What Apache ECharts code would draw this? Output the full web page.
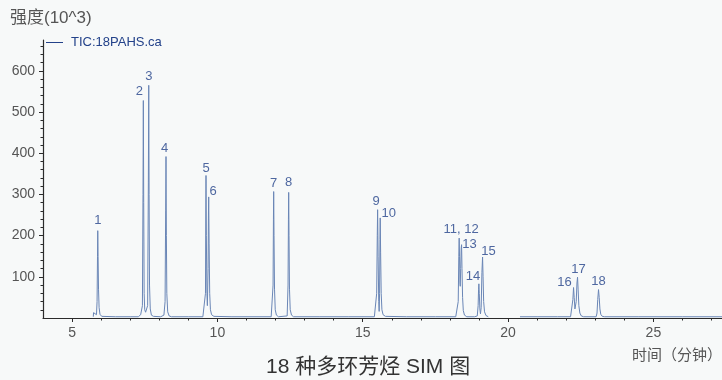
<!DOCTYPE html>
<html>
<head>
<meta charset="utf-8">
<title>18 种多环芳烃 SIM 图</title>
<script src="https://cdn.jsdelivr.net/npm/echarts@6/dist/echarts.min.js"></script>
<style>
  html, body { margin: 0; padding: 0; background: #f7f9f9; }
  #chart { width: 722px; height: 380px; }
</style>
</head>
<body>
<div id="chart"></div>
<script>
// Total ion chromatogram, [retention time (min), intensity (10^3)].
// A null value breaks the trace where no data was acquired.
const ticTrace = [
  [5.73, 3], [5.74, 13], [5.78, 12], [5.80, 9], [5.84, 8], [5.86, 40], [5.875, 150],
  [5.884, 212], [5.895, 150], [5.91, 70], [5.93, 25], [5.96, 9], [6.02, 4],
  [6.5, 3], [7.0, 3], [7.28, 3], [7.30, 7], [7.36, 8], [7.40, 10],
  [7.42, 30], [7.44, 300], [7.452, 528], [7.465, 280], [7.48, 60], [7.50, 20], [7.53, 14],
  [7.57, 12], [7.60, 30], [7.625, 330], [7.638, 565], [7.65, 300], [7.665, 80], [7.69, 22],
  [7.73, 7], [7.80, 4], [8.05, 3], [8.08, 6], [8.16, 7],
  [8.20, 40], [8.22, 260], [8.232, 392], [8.245, 200], [8.26, 60], [8.29, 15], [8.34, 5],
  [8.42, 3], [9.0, 3], [9.5, 3],
  [9.56, 5], [9.59, 60], [9.600, 250], [9.608, 346], [9.62, 200], [9.64, 60], [9.655, 30],
  [9.68, 120], [9.692, 250], [9.701, 294], [9.715, 180], [9.735, 60], [9.76, 20], [9.80, 8],
  [9.88, 4], [10.5, 3], [11.5, 3], [11.85, 3],
  [11.89, 6], [11.915, 80], [11.928, 240], [11.936, 307], [11.948, 200], [11.965, 70],
  [11.99, 20], [12.03, 7], [12.10, 3],
  [12.40, 5], [12.43, 80], [12.444, 240], [12.452, 305], [12.464, 200], [12.48, 70],
  [12.505, 20], [12.55, 7], [12.62, 3], [13.5, 3], [14.5, 3], [15.40, 3],
  [15.45, 6], [15.48, 60], [15.500, 200], [15.512, 263], [15.53, 150], [15.55, 40], [15.565, 16],
  [15.58, 60], [15.592, 190], [15.602, 243], [15.615, 160], [15.635, 60], [15.66, 20],
  [15.70, 8], [15.78, 4], [16.5, 3], [17.5, 3], [18.20, 3],
  [18.25, 5], [18.285, 40], [18.305, 150], [18.318, 194], [18.33, 150], [18.345, 85], [18.355, 77],
  [18.37, 120], [18.388, 170], [18.401, 178], [18.415, 120], [18.435, 50], [18.46, 18],
  [18.50, 7], [18.58, 3], [18.85, 3],
  [18.94, 5], [18.97, 30], [18.985, 70], [18.996, 83], [19.01, 60], [19.03, 22], [19.05, 10],
  [19.075, 25], [19.10, 110], [19.123, 148], [19.14, 100], [19.16, 40], [19.19, 15],
  [19.24, 6], [19.32, 3], [19.40, null],
  [20.41, 3], [21.0, 3], [21.7, 3], [22.15, 3],
  [22.20, 6], [22.23, 45], [22.253, 74], [22.275, 50], [22.30, 22], [22.32, 20],
  [22.345, 40], [22.37, 85], [22.390, 99], [22.41, 70], [22.435, 30], [22.47, 12],
  [22.52, 5], [22.60, 3], [23.03, 3],
  [23.06, 12], [23.085, 45], [23.112, 69], [23.135, 50], [23.16, 22], [23.19, 9],
  [23.24, 4], [23.32, 3], [24.5, 3], [26.0, 3], [27.36, 3]
];

// Numbered peaks: label, apex time (min) and apex intensity (10^3)
const peakLabels  = ['1', '2', '3', '4', '5', '6', '7', '8', '9', '10', '11, 12', '13', '14', '15', '16', '17', '18'];
const peakTimes   = [5.884, 7.452, 7.638, 8.232, 9.608, 9.701, 11.936, 12.452, 15.512, 15.602, 18.318, 18.401, 18.996, 19.123, 22.253, 22.390, 23.112];
const peakHeights = [212, 528, 565, 392, 346, 294, 307, 305, 263, 243, 194, 178, 83, 148, 74, 99, 69];

// Axis ticks
const xLabelTicks = [5, 10, 15, 20, 25];
const xMinorTicks = [6, 7, 8, 9, 11, 12, 13, 14, 16, 17, 18, 19, 21, 22, 23, 24, 26, 27];
const yLabelTicks = [100, 200, 300, 400, 500, 600];
const yMinorTicks = [20, 40, 60, 80, 120, 140, 160, 180, 220, 240, 260, 280, 320, 340, 360, 380,
                     420, 440, 460, 480, 520, 540, 560, 580, 620, 640, 660];

const seriesName = 'TIC:18PAHS.ca';

// Per-peak nudges so neighbouring labels do not collide [dx, dy]
const labelNudge = [
  [0, -1.5], [-4, -0.5], [0, 0], [-1.5, 0], [0, 1], [4.5, 3], [0, 0], [0, -1], [-1.5, 0.5],
  [8.5, 4], [2, 0], [8, 8.5], [-6, 1.5], [6, 3], [-9, 3], [1, 1], [0, 0.5]
];

const FONT = '"Liberation Sans", "Noto Sans CJK SC", sans-serif';
const AXIS_COLOR = '#2b2b2b';
const LABEL_COLOR = '#23428a';
const X_MIN = 4, X_MAX = 27.36, Y_MIN = 0, Y_MAX = 675;

const labelData = peakLabels.map((lab, i) => ({
  name: lab,
  value: [peakTimes[i], peakHeights[i]],
  label: { offset: labelNudge[i] }
}));

const chart = echarts.init(document.getElementById('chart'), null, { renderer: 'canvas' });

chart.setOption({
  animation: false,
  backgroundColor: '#f7f9f9',
  textStyle: { fontFamily: FONT },
  title: [
    {
      text: '强度(10^3)', left: 10, top: 10, padding: 0,
      textStyle: { fontSize: 17, fontWeight: 'normal', color: '#555', fontFamily: FONT }
    },
    {
      text: '时间（分钟）', left: 632, top: 348, padding: 0,
      textStyle: { fontSize: 15, fontWeight: 'normal', color: '#555', fontFamily: FONT }
    },
    {
      text: '18 种多环芳烃 SIM 图', left: 266, top: 357, padding: 0,
      textStyle: { fontSize: 21, fontWeight: 'normal', color: '#333', fontFamily: FONT }
    }
  ],
  legend: {
    left: 46, top: 36, padding: 0,
    icon: 'rect', itemWidth: 17, itemHeight: 1,
    selectedMode: false,
    data: [{ name: seriesName, itemStyle: { color: LABEL_COLOR } }],
    textStyle: { color: LABEL_COLOR, fontSize: 13, fontFamily: FONT, padding: [0, 0, 0, 3] }
  },
  grid: { left: 43, right: 0, top: 40, bottom: 62, containLabel: false },
  xAxis: [
    {
      type: 'value', min: X_MIN, max: X_MAX, position: 'bottom',
      axisLine: { show: true, onZero: false, lineStyle: { color: AXIS_COLOR, width: 1.2 } },
      axisTick: { show: true, customValues: xLabelTicks, length: 4, lineStyle: { color: AXIS_COLOR } },
      axisLabel: { customValues: xLabelTicks, fontSize: 14, color: '#555', margin: 8 },
      splitLine: { show: false }
    },
    {
      type: 'value', min: X_MIN, max: X_MAX, position: 'bottom',
      axisLine: { show: false, onZero: false },
      axisTick: { show: true, customValues: xMinorTicks, length: 2.5, lineStyle: { color: AXIS_COLOR } },
      axisLabel: { show: false },
      splitLine: { show: false }
    }
  ],
  yAxis: [
    {
      type: 'value', min: Y_MIN, max: Y_MAX, position: 'left',
      axisLine: { show: true, onZero: false, lineStyle: { color: AXIS_COLOR, width: 1.2 } },
      axisTick: { show: true, customValues: yLabelTicks, length: 4, lineStyle: { color: AXIS_COLOR } },
      axisLabel: { customValues: yLabelTicks, fontSize: 14, color: '#555', margin: 8 },
      splitLine: { show: false }
    },
    {
      type: 'value', min: Y_MIN, max: Y_MAX, position: 'left',
      axisLine: { show: false, onZero: false },
      axisTick: { show: true, customValues: yMinorTicks, length: 2.5, lineStyle: { color: AXIS_COLOR } },
      axisLabel: { show: false },
      splitLine: { show: false }
    }
  ],
  series: [
    {
      name: seriesName,
      type: 'line',
      xAxisIndex: 0, yAxisIndex: 0,
      data: ticTrace,
      showSymbol: false, symbol: 'none',
      connectNulls: false,
      sampling: null,
      lineStyle: { color: '#6a86b6', width: 1 },
      emphasis: { disabled: true },
      silent: true,
      clip: true
    },
    {
      name: 'peaks',
      type: 'scatter',
      xAxisIndex: 0, yAxisIndex: 0,
      data: labelData,
      symbolSize: 0,
      silent: true,
      label: {
        show: true, position: 'top', distance: 2,
        formatter: p => p.name,
        color: LABEL_COLOR, fontSize: 13, fontFamily: FONT
      }
    }
  ]
});
</script>
</body>
</html>
